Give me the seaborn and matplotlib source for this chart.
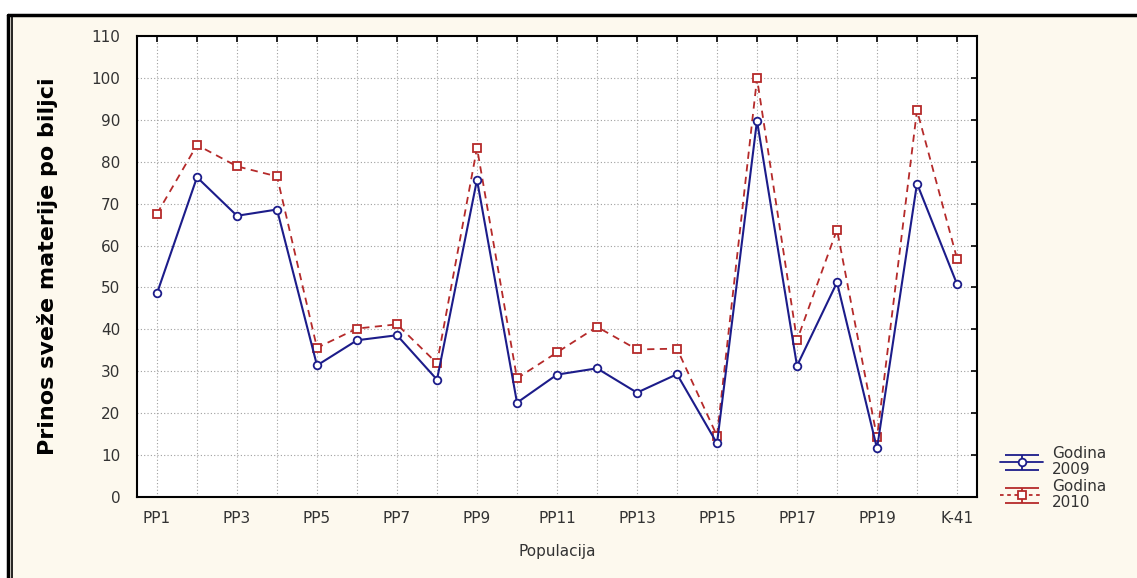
import numpy as np
import pandas as pd
import seaborn as sns
import matplotlib
matplotlib.use("Agg")
import matplotlib.pyplot as plt
from matplotlib.lines import Line2D
from matplotlib.container import ErrorbarContainer
from matplotlib.collections import LineCollection
from matplotlib.patches import Rectangle

categories = [f"PP{i}" for i in range(1, 21)] + ["K-41"]
godina_2009 = [48.6, 76.3, 67.1, 68.6, 31.4, 37.4, 38.6, 28.0, 75.7, 22.5, 29.2,
               30.7, 24.9, 29.3, 12.8, 89.8, 31.3, 51.2, 11.6, 74.8, 50.8]
godina_2010 = [67.6, 84.0, 78.9, 76.5, 35.6, 40.2, 41.2, 31.9, 83.3, 28.3, 34.5,
               40.6, 35.2, 35.4, 14.6, 99.9, 37.4, 63.8, 14.2, 92.3, 56.9]
series_labels = ["Godina\n2009", "Godina\n2010"]
y_label = "Prinos sveže materije po biljci"
x_label = "Populacija"

sns.set_style("white")
plt.rcParams["font.family"] = ["DejaVu Sans"]

BLUE = "#1c1c8a"
RED = "#b52a2a"
BG = "#fdf9ee"
TXT = "#333333"

fig = plt.figure(figsize=(11.37, 5.78), dpi=100)
fig.patch.set_facecolor("white")
W, H = 1137, 578
# cream panel and frame
fig.patches.append(Rectangle((9 / W, 0), 1 - 9 / W, 1 - 15 / H, transform=fig.transFigure,
                             facecolor=BG, edgecolor="none", zorder=-10))
fig.add_artist(Line2D([8 / W, 1], [1 - 15 / H, 1 - 15 / H], color="black", lw=2.5,
                      transform=fig.transFigure))
fig.add_artist(Line2D([8 / W, 8 / W], [0, 1 - 15 / H], color="black", lw=2.5,
                      transform=fig.transFigure))
fig.add_artist(Line2D([12 / W, 12 / W], [0, 1 - 17 / H], color="black", lw=1.2,
                      transform=fig.transFigure))

ax = fig.add_axes([137 / W, 1 - 497 / H, (977 - 137) / W, (497 - 36) / H])
ax.set_facecolor("white")

df = pd.DataFrame({"idx": np.arange(len(categories)), "2009": godina_2009, "2010": godina_2010})

sns.lineplot(data=df, x="idx", y="2009", ax=ax, color=BLUE, lw=1.5, marker="o",
             markersize=5.5, markerfacecolor="white", markeredgecolor=BLUE,
             markeredgewidth=1.3, zorder=4)
sns.lineplot(data=df, x="idx", y="2010", ax=ax, color=RED, lw=1.3, marker="s",
             markersize=6, markerfacecolor="white", markeredgecolor=RED,
             markeredgewidth=1.3, zorder=3)
ax.lines[1].set_dashes([4, 3])

ax.set_xlim(-0.5, len(categories) - 0.5)
ax.set_ylim(0, 110)
ax.set_yticks(np.arange(0, 111, 10))
ax.set_xticks(np.arange(len(categories)))
ax.set_xticklabels([c if i % 2 == 0 else "" for i, c in enumerate(categories)])
ax.grid(True, which="major", color="#a0a0a0", linestyle=(0, (1, 2)), lw=0.8)
ax.tick_params(direction="in", length=4, width=1.2, top=True, right=True,
               labelsize=11, colors="black", labelcolor=TXT)
ax.tick_params(axis="y", pad=12)
ax.tick_params(axis="x", pad=10)
for s in ax.spines.values():
    s.set_visible(True)
    s.set_color("black")
    s.set_linewidth(1.5)

ax.set_xlabel(x_label, fontsize=11, color=TXT)
ax.xaxis.set_label_coords(0.5, -(544 - 497) / 461)
ax.set_ylabel(y_label, fontsize=16, fontweight="bold", color="black")
ax.yaxis.set_label_coords(-(137 - 58) / 840, 0.5)


def make_handle(color, marker, dashed):
    ls = (0, (2, 2)) if dashed else "-"
    dl = Line2D([], [], color=color, marker=marker, markersize=5.5,
                markerfacecolor="white", markeredgecolor=color, markeredgewidth=1.3,
                linestyle=ls, lw=1.3)
    cap1 = Line2D([], [], color=color, marker="_", markersize=24, markeredgewidth=1.3, linestyle="none")
    cap2 = Line2D([], [], color=color, marker="_", markersize=24, markeredgewidth=1.3, linestyle="none")
    lc = LineCollection([], colors=color, linewidths=1.3)
    return ErrorbarContainer((dl, (cap1, cap2), (lc,)), has_xerr=False, has_yerr=True)


handles = [make_handle(BLUE, "o", False), make_handle(RED, "s", True)]
leg = fig.legend(handles, series_labels, loc="upper left",
                 bbox_to_anchor=(994 / W, 1 - 440 / H), frameon=False, fontsize=11,
                 handlelength=2.8, handletextpad=0.6, labelspacing=0.12,
                 borderaxespad=0)
for t in leg.get_texts():
    t.set_color(TXT)
    t.set_linespacing(1.1)

fig.savefig("out.png", dpi=100, facecolor=fig.get_facecolor())
